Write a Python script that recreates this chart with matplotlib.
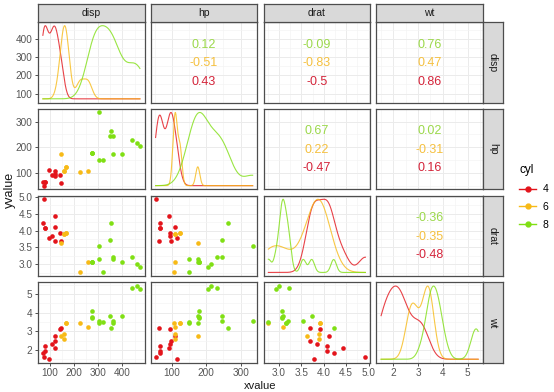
import numpy as np
import matplotlib.pyplot as plt
from matplotlib.ticker import FixedLocator, FormatStrFormatter
from matplotlib.lines import Line2D

plt.rcParams['font.family'] = ['Liberation Sans', 'DejaVu Sans']

# mtcars columns used in the pairs plot
cyl = [6, 6, 4, 6, 8, 6, 8, 4, 4, 6, 6, 8, 8, 8, 8, 8, 8, 4, 4, 4, 4, 8, 8, 8, 8, 4, 4, 4, 8, 6, 8, 4]
disp = [160, 160, 108, 258, 360, 225, 360, 146.7, 140.8, 167.6, 167.6, 275.8, 275.8, 275.8, 472, 460,
        440, 78.7, 75.7, 71.1, 120.1, 318, 304, 350, 400, 79, 120.3, 95.1, 351, 145, 301, 121]
hp = [110, 110, 93, 110, 175, 105, 245, 62, 95, 123, 123, 180, 180, 180, 205, 215, 230, 66, 52, 65,
      97, 150, 150, 245, 175, 66, 91, 113, 264, 175, 335, 109]
drat = [3.90, 3.90, 3.85, 3.08, 3.15, 2.76, 3.21, 3.69, 3.92, 3.92, 3.92, 3.07, 3.07, 3.07, 2.93, 3.00,
        3.23, 4.08, 4.93, 4.22, 3.70, 2.76, 3.15, 3.73, 3.08, 4.08, 4.43, 3.77, 4.22, 3.62, 3.54, 4.11]
wt = [2.620, 2.875, 2.320, 3.215, 3.440, 3.460, 3.570, 3.190, 3.150, 3.440, 3.440, 4.070, 3.730, 3.780,
      5.250, 5.424, 5.345, 2.200, 1.615, 1.835, 2.465, 3.520, 3.435, 3.840, 3.845, 1.935, 2.140, 1.513,
      3.170, 2.770, 3.570, 2.780]

variables = ['disp', 'hp', 'drat', 'wt']
groups = [4, 6, 8]
colors = {4: '#E3141B', 6: '#F7BA17', 8: '#80DF14'}
text_colors = {4: '#D4243A', 6: '#F5C03F', 8: '#9BD84A'}

# correlation labels shown in the upper panels, listed for cyl 8, 6, 4
corr_labels = {
    (0, 1): ['0.12', '-0.51', '0.43'],
    (0, 2): ['-0.09', '-0.83', '-0.5'],
    (0, 3): ['0.76', '0.47', '0.86'],
    (1, 2): ['0.67', '0.22', '-0.47'],
    (1, 3): ['0.02', '-0.31', '0.16'],
    (2, 3): ['-0.36', '-0.35', '-0.48'],
}

major = {'disp': [100, 200, 300, 400], 'hp': [100, 200, 300],
         'drat': [3.0, 3.5, 4.0, 4.5, 5.0], 'wt': [2, 3, 4, 5]}
fmt = {'disp': '%d', 'hp': '%d', 'drat': '%.1f', 'wt': '%d'}

data = {'disp': np.array(disp), 'hp': np.array(hp), 'drat': np.array(drat), 'wt': np.array(wt)}
cyl = np.array(cyl)


def limits(v):
    lo, hi = data[v].min(), data[v].max()
    pad = (hi - lo) * 0.05
    return lo - pad, hi + pad


def minors(v, lim):
    m = major[v]
    step = m[1] - m[0]
    cand = [m[0] - step / 2] + [t + step / 2 for t in m]
    return [c for c in cand if lim[0] <= c <= lim[1]]


def bw_nrd0(x):
    sd = np.std(x, ddof=1)
    q75, q25 = np.percentile(x, [75, 25])
    lo = min(sd, (q75 - q25) / 1.34)
    if lo == 0:
        lo = sd or abs(x[0]) or 1
    return 0.9 * lo * len(x) ** -0.2


W, H = 554, 392
fig = plt.figure(figsize=(W / 100, H / 100), dpi=100)

left0, pw, gapx = 38, 106.75, 6.0
top0, ph, gapy = 22, 80.5, 6.3
border = '#4D4D4D'


def px_axes(x, y, w, h):
    return fig.add_axes([x / W, 1 - (y + h) / H, w / W, h / H])


for i, rv in enumerate(variables):
    for j, cv in enumerate(variables):
        ax = px_axes(left0 + j * (pw + gapx), top0 + i * (ph + gapy), pw, ph)
        xl, yl = limits(cv), limits(rv)
        ax.set_xlim(xl)
        ax.set_ylim(yl)
        ax.xaxis.set_major_locator(FixedLocator(major[cv]))
        ax.yaxis.set_major_locator(FixedLocator(major[rv]))
        ax.xaxis.set_minor_locator(FixedLocator(minors(cv, xl)))
        ax.yaxis.set_minor_locator(FixedLocator(minors(rv, yl)))
        ax.xaxis.set_major_formatter(FormatStrFormatter(fmt[cv]))
        ax.yaxis.set_major_formatter(FormatStrFormatter(fmt[rv]))
        ax.grid(which='major', color='#EBEBEB', linewidth=0.7)
        ax.grid(which='minor', color='#F3F3F3', linewidth=0.45)
        ax.set_axisbelow(True)
        for s in ax.spines.values():
            s.set_color(border)
            s.set_linewidth(0.9)
        ax.tick_params(which='minor', length=0)
        ax.tick_params(which='major', length=2.5, width=0.6, color='#333333',
                       labelsize=7.2, labelcolor='#555555', pad=1.5,
                       left=(j == 0), labelleft=(j == 0),
                       bottom=(i == 3), labelbottom=(i == 3))

        if i == j:
            x = data[cv]
            grid = np.linspace(x.min(), x.max(), 512)
            for g in groups:
                xs = x[cyl == g]
                bw = bw_nrd0(xs)
                dens = np.exp(-0.5 * ((grid[:, None] - xs[None, :]) / bw) ** 2).sum(axis=1)
                dens = dens / dens.max()
                y = data[rv].min() + dens * (data[rv].max() - data[rv].min())
                ax.plot(grid, y, color=colors[g], linewidth=0.8, alpha=0.8)
        elif i > j:
            for g in groups:
                m = cyl == g
                ax.scatter(data[cv][m], data[rv][m], s=11, color=colors[g],
                           linewidths=0, zorder=3)
        else:
            for k, g in enumerate([8, 6, 4]):
                ax.text(0.5, [0.72, 0.49, 0.26][k], corr_labels[(i, j)][k],
                        transform=ax.transAxes, ha='center', va='center',
                        fontsize=9, color=text_colors[g])

        # strips
        if i == 0:
            sax = px_axes(left0 + j * (pw + gapx), 4, pw, top0 - 4)
            sax.set_facecolor('#D9D9D9')
            sax.set_xticks([])
            sax.set_yticks([])
            for s in sax.spines.values():
                s.set_color(border)
                s.set_linewidth(0.9)
            sax.text(0.5, 0.5, cv, ha='center', va='center', fontsize=7.5,
                     color='#1A1A1A', transform=sax.transAxes)
        if j == 3:
            rax = px_axes(left0 + 4 * pw + 3 * gapx, top0 + i * (ph + gapy), 20, ph)
            rax.set_facecolor('#D9D9D9')
            rax.set_xticks([])
            rax.set_yticks([])
            for s in rax.spines.values():
                s.set_color(border)
                s.set_linewidth(0.9)
            rax.text(0.5, 0.5, rv, ha='center', va='center', fontsize=7.5,
                     rotation=-90, color='#1A1A1A', transform=rax.transAxes)

fig.text(10 / W, 1 - 190 / H, 'yvalue', rotation=90, ha='center', va='center',
         fontsize=9, color='#1A1A1A')
fig.text(260 / W, 1 - 391 / H, 'xvalue', ha='center', va='bottom',
         fontsize=8, color='#1A1A1A')

handles = [Line2D([], [], color=colors[g], marker='o', markersize=3.5, linewidth=1)
           for g in groups]
leg = fig.legend(handles, [str(g) for g in groups], title='cyl',
                 loc='upper left', bbox_to_anchor=(510 / W, 1 - 155 / H),
                 frameon=False, fontsize=7.5, title_fontsize=8.5,
                 handlelength=1.6, handletextpad=0.6, labelspacing=0.75)
leg._legend_box.align = 'left'

fig.savefig('out.png', dpi=100)
